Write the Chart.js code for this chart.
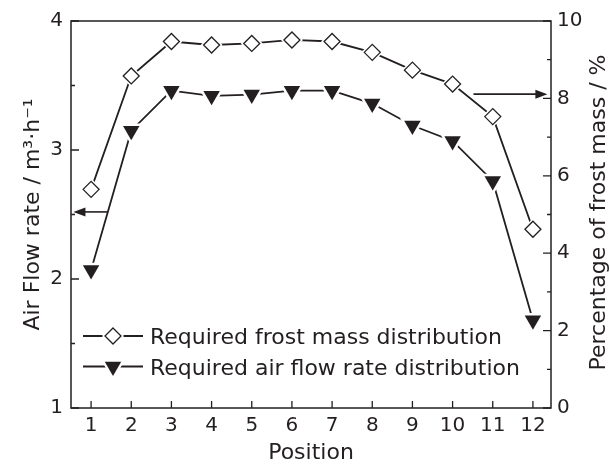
<!DOCTYPE html>
<html>
<head>
<meta charset="utf-8">
<script src="https://cdn.jsdelivr.net/npm/chart.js@4.4.1/dist/chart.umd.min.js"></script>
<style>
  body { margin: 0; background: #fff; }
</style>
</head>
<body>
<canvas id="chart" width="610" height="464"></canvas>
<script>
const positions = [1, 2, 3, 4, 5, 6, 7, 8, 9, 10, 11, 12];
const frostMass = [5.65, 8.58, 9.47, 9.38, 9.42, 9.51, 9.47, 9.19, 8.73, 8.37, 7.53, 4.62];
const airFlow = [2.07, 3.15, 3.46, 3.42, 3.43, 3.46, 3.46, 3.36, 3.19, 3.07, 2.76, 1.68];
const leftTicks = [1, 2, 3, 4];
const rightTicks = [0, 2, 4, 6, 8, 10];

const ink = '#231f20';
const font = 'DejaVu Sans';
const rightTitle = 'Percentage of frost mass / %';

// arrows pointing to the axis each series belongs to (x from, x to, value)
const leftArrow = { from: 1.41, to: 0.56, y: 2.52 };
const rightArrow = { from: 10.52, to: 12.36, y: 8.11 };

function diamondPath(ctx, x, y, r) {
  ctx.beginPath();
  ctx.moveTo(x, y - r);
  ctx.lineTo(x + r, y);
  ctx.lineTo(x, y + r);
  ctx.lineTo(x - r, y);
  ctx.closePath();
}
function trianglePath(ctx, x, y, r) {
  const h = r * Math.sin(Math.PI / 3);
  ctx.beginPath();
  ctx.moveTo(x, y + r);
  ctx.lineTo(x + h, y - r / 2);
  ctx.lineTo(x - h, y - r / 2);
  ctx.closePath();
}

// white gap round each marker, as in the printed figure
const halo = {
  id: 'halo',
  afterDatasetsDraw(chart) {
    const ctx = chart.ctx;
    ctx.save();
    chart.data.datasets.forEach((ds, i) => {
      chart.getDatasetMeta(i).data.forEach(pt => {
        ctx.fillStyle = '#fff';
        if (ds.pointStyle === 'rectRot') diamondPath(ctx, pt.x, pt.y, ds.pointRadius + 3);
        else trianglePath(ctx, pt.x, pt.y, ds.pointRadius + 5);
        ctx.fill();
        pt.draw(ctx, chart.chartArea);
      });
    });
    ctx.restore();
  }
};

const frameAndTicks = {
  id: 'frameAndTicks',
  afterDraw(chart) {
    const { ctx, chartArea: a, scales } = chart;
    ctx.save();
    ctx.strokeStyle = ink;
    ctx.lineWidth = 1.5;
    ctx.strokeRect(a.left, a.top, a.right - a.left, a.bottom - a.top);
    ctx.lineWidth = 1.3;
    ctx.beginPath();
    scales.x.ticks.forEach(t => {
      const px = scales.x.getPixelForValue(t.value);
      ctx.moveTo(px, a.bottom);
      ctx.lineTo(px, a.bottom - 7);
    });
    const side = (scale, x0, dir) => {
      const vals = scale.ticks.map(t => t.value);
      vals.forEach((v, i) => {
        const py = scale.getPixelForValue(v);
        ctx.moveTo(x0, py);
        ctx.lineTo(x0 + dir * 8, py);
        if (i > 0) {
          const pm = scale.getPixelForValue((v + vals[i - 1]) / 2);
          ctx.moveTo(x0, pm);
          ctx.lineTo(x0 + dir * 4, pm);
        }
      });
    };
    side(scales.y, a.left, 1);
    side(scales.y1, a.right, -1);
    ctx.stroke();

    // arrows
    const arrow = (arr, yScale) => {
      const x1 = scales.x.getPixelForValue(arr.from);
      const x2 = scales.x.getPixelForValue(arr.to);
      const y = yScale.getPixelForValue(arr.y);
      const d = Math.sign(x2 - x1);
      ctx.beginPath();
      ctx.lineWidth = 1.6;
      ctx.moveTo(x1, y);
      ctx.lineTo(x2 - d * 8, y);
      ctx.stroke();
      ctx.beginPath();
      ctx.fillStyle = ink;
      ctx.moveTo(x2, y);
      ctx.lineTo(x2 - d * 12, y - 4.5);
      ctx.lineTo(x2 - d * 12, y + 4.5);
      ctx.closePath();
      ctx.fill();
    };
    arrow(leftArrow, scales.y);
    arrow(rightArrow, scales.y1);

    // right axis title reads upwards like the left one
    ctx.save();
    ctx.font = '22px "' + font + '"';
    ctx.fillStyle = ink;
    ctx.textAlign = 'center';
    ctx.textBaseline = 'alphabetic';
    ctx.translate(a.right + 54, (a.top + a.bottom) / 2 - 2);
    ctx.rotate(-Math.PI / 2);
    ctx.fillText(rightTitle, 0, 0);
    ctx.restore();

    // legend
    const rows = [
      { text: chart.data.datasets[0].label, shape: 'diamond' },
      { text: chart.data.datasets[1].label, shape: 'triangle' }
    ];
    ctx.font = '22px "' + font + '"';
    ctx.textBaseline = 'alphabetic';
    ctx.textAlign = 'left';
    rows.forEach((r, i) => {
      const y = a.bottom - 72 + i * 30.5;
      const x0 = a.left + 12;
      const cx = x0 + 30;
      ctx.beginPath();
      ctx.lineWidth = 2.2;
      ctx.strokeStyle = ink;
      ctx.moveTo(x0, y);
      ctx.lineTo(x0 + 60, y);
      ctx.stroke();
      ctx.fillStyle = '#fff';
      if (r.shape === 'diamond') {
        diamondPath(ctx, cx, y, 11);
        ctx.fill();
        diamondPath(ctx, cx, y, 8);
        ctx.fill();
        ctx.lineWidth = 1.3;
        ctx.stroke();
      } else {
        trianglePath(ctx, cx, y, 14);
        ctx.fill();
        trianglePath(ctx, cx, y, 9.5);
        ctx.fillStyle = ink;
        ctx.fill();
      }
      ctx.fillStyle = ink;
      ctx.fillText(r.text, x0 + 67, y + 8);
    });
    ctx.restore();
  }
};

const tickFont = { family: font, size: 20 };
const titleFont = { family: font, size: 22, lineHeight: 1 };

new Chart(document.getElementById('chart'), {
  type: 'line',
  data: {
    datasets: [{
      label: 'Required frost mass distribution',
      data: positions.map((p, i) => ({ x: p, y: frostMass[i] })),
      yAxisID: 'y1',
      borderColor: ink,
      borderWidth: 1.8,
      pointStyle: 'rectRot',
      pointRadius: 8,
      pointBackgroundColor: '#fff',
      pointBorderColor: ink,
      pointBorderWidth: 1.3,
      tension: 0
    }, {
      label: 'Required air flow rate distribution',
      data: positions.map((p, i) => ({ x: p, y: airFlow[i] })),
      yAxisID: 'y',
      borderColor: ink,
      borderWidth: 1.8,
      pointStyle: 'triangle',
      pointRotation: 180,
      pointRadius: 9.5,
      pointBackgroundColor: ink,
      pointBorderColor: ink,
      pointBorderWidth: 0,
      tension: 0
    }]
  },
  options: {
    responsive: false,
    animation: false,
    devicePixelRatio: 1,
    layout: { padding: { top: 21, left: 0, right: 0, bottom: 0 } },
    plugins: { legend: { display: false }, tooltip: { enabled: false } },
    scales: {
      x: {
        type: 'linear',
        min: 0.5,
        max: 12.45,
        afterBuildTicks: s => { s.ticks = positions.map(v => ({ value: v })); },
        afterFit: s => { s.height = 56; },
        grid: { display: false, drawTicks: false },
        border: { display: false },
        ticks: { color: ink, font: tickFont, padding: 6, maxRotation: 0, autoSkip: false },
        title: { display: true, text: 'Position', color: ink, font: titleFont, padding: { top: 0, bottom: 0 } }
      },
      y: {
        position: 'left',
        min: 1,
        max: 4,
        afterBuildTicks: s => { s.ticks = leftTicks.map(v => ({ value: v })); },
        afterFit: s => { s.width = 71; },
        grid: { display: false, drawTicks: false },
        border: { display: false },
        ticks: { color: ink, font: tickFont, padding: 8 },
        title: { display: true, text: 'Air Flow rate / m³·h⁻¹', color: ink, font: titleFont, padding: { top: 22, bottom: 0 } }
      },
      y1: {
        position: 'right',
        min: 0,
        max: 10,
        afterBuildTicks: s => { s.ticks = rightTicks.map(v => ({ value: v })); },
        afterFit: s => { s.width = 59; },
        grid: { display: false, drawTicks: false },
        border: { display: false },
        ticks: { color: ink, font: tickFont, padding: 6 }
      }
    }
  },
  plugins: [halo, frameAndTicks]
});
</script>
</body>
</html>
